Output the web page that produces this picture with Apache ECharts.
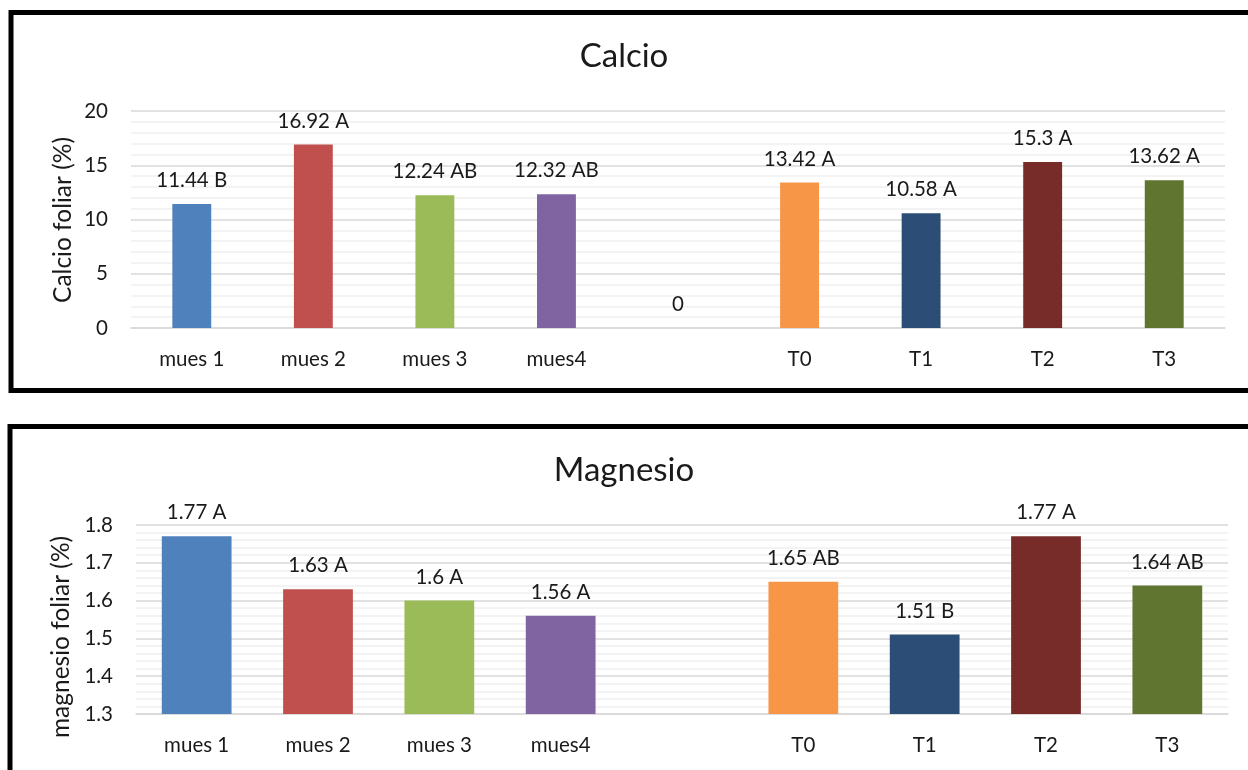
<!DOCTYPE html>
<html>
<head>
<meta charset="utf-8">
<script src="https://cdn.jsdelivr.net/npm/echarts@6/dist/echarts.min.js"></script>
<style>
html,body{margin:0;padding:0;background:#fff;}
#main{width:1248px;height:770px;}
</style>
</head>
<body>
<div id="main"></div>
<script>
const categories = ['mues 1', 'mues 2', 'mues 3', 'mues4', '', 'T0', 'T1', 'T2', 'T3'];
const calcioValues = [11.44, 16.92, 12.24, 12.32, 0, 13.42, 10.58, 15.3, 13.62];
const calcioGroups = ['B', 'A', 'AB', 'AB', '', 'A', 'A', 'A', 'A'];
const magnesioValues = [1.77, 1.63, 1.6, 1.56, null, 1.65, 1.51, 1.77, 1.64];
const magnesioGroups = ['A', 'A', 'A', 'A', '', 'AB', 'B', 'A', 'AB'];
const barColors = ['#4f81bd', '#c0504d', '#9bbb59', '#8064a2', '#cccccc', '#f79646', '#2c4d75', '#772c2a', '#5f7530'];
const calcioTicks = { min: 0, max: 20, interval: 5 };
const magnesioTicks = { min: 1.3, max: 1.8, interval: 0.1 };
const calcioAxisName = 'Calcio foliar (%)';
const magnesioAxisName = 'magnesio foliar (%)';

const FONT = 'Lato';
const TXT = '#1a1a1a';
const FS = 20.5;

function makeData(values, groups) {
  return values.map((v, i) => ({
    value: v,
    group: groups[i],
    itemStyle: { color: barColors[i] }
  }));
}

function labelFmt(p) {
  const g = p.data.group;
  return g ? (p.value + ' ' + g) : String(p.value);
}

function yAxisCfg(ticks, gridIndex, decimals) {
  return {
    type: 'value', gridIndex: gridIndex,
    min: ticks.min, max: ticks.max, interval: ticks.interval,
    axisLine: { show: false }, axisTick: { show: false },
    axisLabel: {
      fontFamily: FONT, fontSize: FS, color: TXT, margin: 23,
      formatter: v => decimals ? v.toFixed(decimals) : String(v)
    },
    splitLine: { show: true, lineStyle: { color: '#d9d9d9', width: 1.5 } },
    minorTick: { show: false, splitNumber: 5 },
    minorSplitLine: { show: true, lineStyle: { color: '#efefef', width: 1.5 } }
  };
}

function xAxisCfg(gridIndex) {
  return {
    type: 'category', gridIndex: gridIndex, data: categories,
    axisLine: { show: true, lineStyle: { color: '#d9d9d9', width: 1.5 } },
    axisTick: { show: false },
    axisLabel: { fontFamily: FONT, fontSize: FS, color: TXT, margin: 21, interval: 0 }
  };
}

function axisNameText(text, x, y) {
  return {
    type: 'text', x: x, y: y, rotation: Math.PI / 2,
    style: { text: text, fontFamily: FONT, fontSize: 24.5, fill: TXT, align: 'center', verticalAlign: 'middle' }
  };
}

const chart = echarts.init(document.getElementById('main'));
chart.setOption({
  backgroundColor: '#fff',
  animation: false,
  title: [
    { text: 'Calcio', left: 'center', top: 35, textStyle: { fontFamily: FONT, fontSize: 33, fontWeight: 'normal', color: TXT } },
    { text: 'Magnesio', left: 'center', top: 449, textStyle: { fontFamily: FONT, fontSize: 33, fontWeight: 'normal', color: TXT } }
  ],
  graphic: [
    { type: 'rect', shape: { x: 11, y: 12.5, width: 1300, height: 378 }, style: { fill: 'none', stroke: '#000', lineWidth: 5 }, z: 100 },
    { type: 'rect', shape: { x: 10, y: 426.5, width: 1300, height: 420 }, style: { fill: 'none', stroke: '#000', lineWidth: 5 }, z: 100 },
    axisNameText(calcioAxisName, 63, 220),
    axisNameText(magnesioAxisName, 61, 637)
  ],
  grid: [
    { left: 131, right: 23, top: 111, bottom: 442 },
    { left: 136, right: 20, top: 525, bottom: 56 }
  ],
  xAxis: [xAxisCfg(0), xAxisCfg(1)],
  yAxis: [
    yAxisCfg(calcioTicks, 0, 0),
    yAxisCfg(magnesioTicks, 1, 1)
  ],
  series: [
    {
      type: 'bar', xAxisIndex: 0, yAxisIndex: 0, barWidth: '32%',
      data: makeData(calcioValues, calcioGroups),
      label: { show: true, position: 'top', distance: 13, formatter: labelFmt, fontFamily: FONT, fontSize: FS, color: TXT }
    },
    {
      type: 'bar', xAxisIndex: 1, yAxisIndex: 1, barWidth: '57.5%',
      data: makeData(magnesioValues, magnesioGroups),
      label: { show: true, position: 'top', distance: 13, formatter: labelFmt, fontFamily: FONT, fontSize: FS, color: TXT }
    }
  ]
});
</script>
</body>
</html>
